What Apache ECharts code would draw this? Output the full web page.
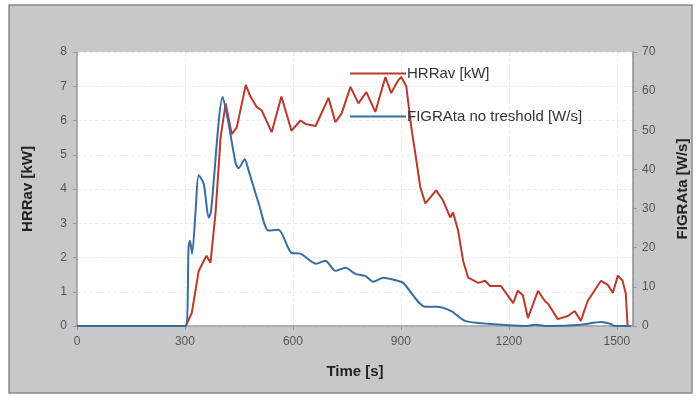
<!DOCTYPE html>
<html>
<head>
<meta charset="utf-8">
<script src="https://cdn.jsdelivr.net/npm/echarts@6/dist/echarts.min.js"></script>
<style>
  html, body { margin: 0; padding: 0; background: #ffffff; }
  #chart { width: 698px; height: 400px; }
</style>
</head>
<body>
<div id="chart"></div>
<script>
// Heat release rate (averaged), kW
const hrrTime = [0, 302, 319, 338, 352, 360, 371, 385, 399, 413, 430, 444, 469, 482, 499, 513, 541, 568, 596, 621, 635, 663, 699, 718, 735, 760, 782, 804, 829, 857, 873, 893, 901, 915, 929, 940, 954, 968, 998, 1017, 1037, 1045, 1059, 1073, 1087, 1115, 1134, 1148, 1178, 1212, 1225, 1239, 1253, 1281, 1300, 1309, 1336, 1364, 1383, 1400, 1419, 1456, 1475, 1489, 1503, 1516, 1525, 1530];
const hrrValues = [0, 0, 0.38, 1.6, 1.9, 2.05, 1.85, 3.3, 5.5, 6.5, 5.6, 5.8, 7.04, 6.7, 6.4, 6.3, 5.66, 6.7, 5.7, 6.0, 5.9, 5.84, 6.66, 5.95, 6.2, 6.98, 6.5, 6.83, 6.25, 7.27, 6.8, 7.18, 7.27, 7.0, 5.8, 5.04, 4.05, 3.58, 3.96, 3.67, 3.17, 3.31, 2.79, 1.9, 1.41, 1.26, 1.32, 1.17, 1.17, 0.67, 1.03, 0.9, 0.23, 1.03, 0.73, 0.65, 0.2, 0.29, 0.44, 0.15, 0.73, 1.32, 1.2, 0.97, 1.47, 1.32, 0.94, 0];

// FIGRA index without threshold, W/s
const figraTime = [0, 302, 310, 314, 320, 330, 338, 352, 366, 372, 405, 421, 441, 449, 466, 477, 505, 532, 560, 596, 621, 665, 690, 718, 746, 774, 801, 823, 851, 893, 907, 968, 998, 1040, 1078, 1150, 1217, 1245, 1273, 1309, 1400, 1456, 1483, 1494, 1540];
const figraValues = [0, 0, 20, 21.8, 18.5, 30, 38.5, 36.4, 27.7, 29, 58.5, 51.8, 41.5, 40.3, 42.6, 39.7, 31.3, 24.4, 24.6, 18.7, 18.5, 15.9, 16.7, 14.1, 14.9, 13.3, 12.8, 11.3, 12.3, 11.5, 11.0, 4.9, 4.9, 3.8, 1.3, 0.5, 0.1, 0, 0.3, 0, 0.3, 1, 0.5, 0, 0];

const seriesNames = ['HRRav [kW]', 'FIGRAta no treshold [W/s]'];

const pair = (xs, ys) => xs.map((x, i) => [x, ys[i]]);

const chart = echarts.init(document.getElementById('chart'), null, { renderer: 'canvas' });

const tickLabel = { color: '#555', fontFamily: 'Liberation Sans, Arial, sans-serif', fontSize: 12 };
const axisName = { color: '#222', fontFamily: 'Liberation Sans, Arial, sans-serif', fontSize: 15, fontWeight: 'bold' };

chart.setOption({
  animation: false,
  backgroundColor: '#ffffff',
  graphic: [{
    type: 'rect',
    z: -10,
    shape: { x: 9, y: 5, width: 683, height: 388 },
    style: { fill: '#c8c8ca', stroke: '#8a8a8c', lineWidth: 1.5 }
  }],
  grid: {
    left: 77, right: 62, top: 52, bottom: 74,
    show: true, backgroundColor: '#ffffff', borderWidth: 0
  },
  legend: {
    orient: 'vertical',
    left: 345, top: 61,
    itemWidth: 56, itemHeight: 2, itemGap: 28,
    icon: 'rect',
    textStyle: { color: '#333', fontFamily: 'Liberation Sans, Arial, sans-serif', fontSize: 15, padding: [0, 0, 0, -4] },
    data: seriesNames
  },
  xAxis: {
    type: 'value', min: 0, max: 1545, interval: 300,
    name: 'Time [s]', nameLocation: 'middle', nameGap: 38, nameTextStyle: axisName,
    axisLine: { show: true, lineStyle: { color: '#9a9a9a', width: 1.5 } },
    axisTick: { show: true, length: 4, lineStyle: { color: '#9a9a9a' } },
    axisLabel: Object.assign({ margin: 10, showMaxLabel: false,
      formatter: v => (v % 300 === 0 ? String(v) : '') }, tickLabel),
    splitLine: { show: true, lineStyle: { color: '#ececec', type: 'dashed' } }
  },
  yAxis: [{
    type: 'value', min: 0, max: 8, interval: 1,
    name: 'HRRav [kW]', nameLocation: 'middle', nameGap: 42, nameTextStyle: axisName,
    axisLine: { show: true, lineStyle: { color: '#9a9a9a', width: 1.5 } },
    axisTick: { show: true, length: 4, lineStyle: { color: '#9a9a9a' } },
    axisLabel: Object.assign({ margin: 10 }, tickLabel),
    splitLine: { show: true, lineStyle: { color: '#ececec', type: 'dashed' } }
  }, {
    type: 'value', min: 0, max: 70, interval: 10, position: 'right',
    name: 'FIGRAta [W/s]', nameLocation: 'middle', nameGap: 42, nameRotate: 90,
    nameTextStyle: axisName,
    axisLine: { show: true, lineStyle: { color: '#8a8a8a', width: 1.5 } },
    axisTick: { show: true, length: 4, lineStyle: { color: '#9a9a9a' } },
    axisLabel: Object.assign({ margin: 9 }, tickLabel),
    splitLine: { show: false }
  }],
  series: [{
    name: seriesNames[0], type: 'line', yAxisIndex: 0,
    data: pair(hrrTime, hrrValues),
    showSymbol: false, symbol: 'none',
    lineStyle: { color: '#b83a2c', width: 2 },
    itemStyle: { color: '#b83a2c' },
    z: 2
  }, {
    name: seriesNames[1], type: 'line', yAxisIndex: 1,
    data: pair(figraTime, figraValues),
    showSymbol: false, symbol: 'none', smooth: 0.25,
    lineStyle: { color: '#3a6c9e', width: 2 },
    itemStyle: { color: '#3a6c9e' },
    z: 3
  }]
});
</script>
</body>
</html>
